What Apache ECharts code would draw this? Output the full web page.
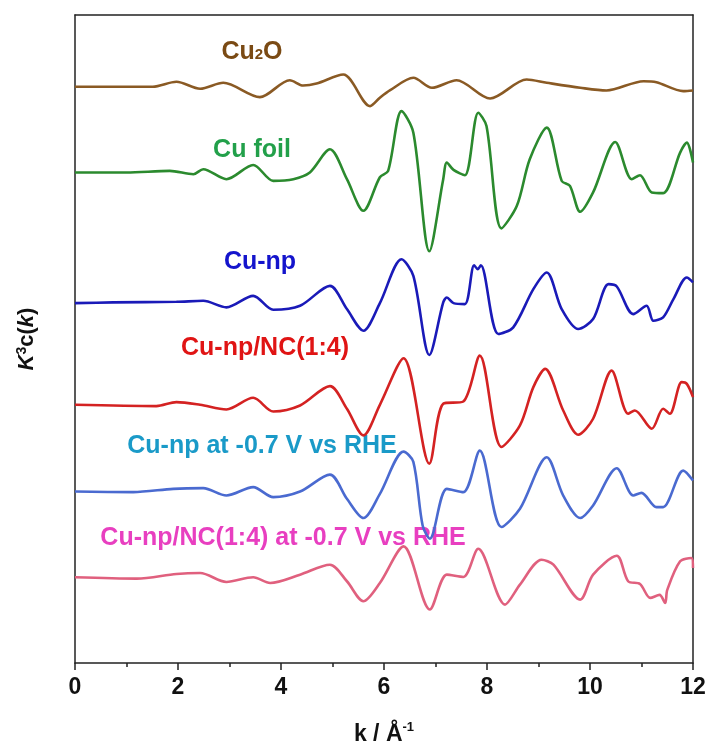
<!DOCTYPE html>
<html>
<head>
<meta charset="utf-8">
<style>
  html, body { margin: 0; padding: 0; background: #fff; }
  #chart { width: 713px; height: 751px; }
</style>
<script src="https://cdn.jsdelivr.net/npm/echarts@6/dist/echarts.min.js"></script>
</head>
<body>
<div id="chart"></div>
<script>
// k (1/Å) and chi (arbitrary units, relative to each trace's own baseline)
const cu2o = [
  [0, 0], [1.0, 0], [1.51, 0], [1.97, 0.5], [2.43, -0.2], [2.88, 0.4], [3.59, -1.04],
  [4.17, 0.66], [4.43, 0.13], [4.69, 0.33], [5.21, 1.23], [5.73, -1.94], [5.92, -1.1],
  [6.12, -0.34], [6.57, 0.9], [6.93, -0.1], [7.41, 0.66], [8.06, -1.17], [8.77, 0.73],
  [9.16, 0.4], [9.81, -0.1], [10.32, -0.37], [11.04, 0.56], [11.29, 0.46], [11.81, -0.44], [12, -0.37]
];
const cuFoil = [
  [0, 0], [1.0, 0], [1.84, 0.16], [2.3, -0.17], [2.49, 0.33], [2.94, -0.67], [3.46, 0.76],
  [3.85, -0.84], [4.24, -0.67], [4.56, 0], [4.95, 2.33], [5.28, -0.67], [5.6, -3.84],
  [5.92, -0.47], [6.08, 0.16], [6.34, 6.16], [6.57, 4.0], [6.88, -7.9], [7.15, -0.67],
  [7.22, 1.0], [7.35, 0.26], [7.57, -0.27], [7.83, 6.0], [7.99, 4.66], [8.28, -5.6],
  [8.58, -3.34], [8.83, 1.33], [9.16, 4.5], [9.45, -0.84], [9.61, -1.34], [9.81, -3.94],
  [10.06, -2.0], [10.49, 3.06], [10.81, -0.67], [10.97, -0.27], [11.2, -2.0], [11.42, -2.07],
  [11.75, 2.0], [11.88, 3.0], [12, 1.0]
];
const cuNp = [
  [0, 0], [0.74, 0.07], [1.97, 0.13], [2.49, 0.23], [2.94, -0.43], [3.46, 0.73], [3.85, -0.67],
  [4.37, -0.27], [4.95, 1.73], [5.28, -0.6], [5.6, -2.77], [5.92, 0], [6.34, 4.4], [6.57, 2.73],
  [6.88, -5.2], [7.15, 0.07], [7.22, 0.57], [7.35, 0], [7.57, -0.1], [7.75, 3.8], [7.82, 3.4],
  [7.88, 3.8], [8.22, -3.1], [8.51, -2.43], [8.9, 1.4], [9.16, 3.07], [9.45, -0.6], [9.77, -2.6],
  [10.06, -1.6], [10.36, 1.9], [10.52, 1.67], [10.84, -1.1], [11.1, -0.27], [11.23, -1.77],
  [11.42, -1.43], [11.62, 0.4], [11.88, 2.57], [12, 2.07]
];
const cuNpNc = [
  [0, 0], [1.58, -0.13], [1.97, 0.27], [2.43, 0], [2.94, -0.47], [3.46, 0.7], [3.85, -0.67],
  [4.37, -0.07], [4.95, 1.87], [5.28, -0.4], [5.6, -3.07], [5.92, 0], [6.38, 4.67], [6.88, -5.9],
  [7.15, 0.1], [7.54, 0.33], [7.86, 4.93], [8.28, -4.23], [8.64, -2.07], [8.9, 1.77], [9.13, 3.6],
  [9.48, -0.57], [9.77, -3.0], [10.06, -1.4], [10.42, 3.43], [10.74, -0.9], [10.87, -0.57],
  [11.2, -2.4], [11.42, -0.4], [11.55, -0.9], [11.78, 2.27], [11.88, 2.1], [12, 0.77]
];
const cuNpBias = [
  [0, 0], [1.13, -0.06], [1.91, 0.27], [2.49, 0.34], [2.94, -0.4], [3.46, 0.44], [3.85, -0.56],
  [4.37, 0], [4.95, 1.7], [5.28, -0.73], [5.6, -2.66], [5.92, -0.23], [6.38, 4.0], [6.57, 2.97],
  [6.75, -3.4], [6.89, -4.73], [7.22, 0.27], [7.54, -0.06], [7.86, 4.1], [8.28, -3.56],
  [8.64, -1.73], [9.16, 3.44], [9.48, -0.4], [9.81, -2.66], [10.06, -1.4], [10.52, 2.34],
  [10.84, -0.4], [11.0, -0.13], [11.29, -1.56], [11.42, -1.56], [11.81, 2.1], [12, 1.1]
];
const cuNpNcBias = [
  [0, 0], [1.2, -0.14], [1.97, 0.33], [2.43, 0.43], [2.94, -0.47], [3.46, 0], [3.79, -0.57],
  [4.37, 0.26], [4.95, 1.26], [5.28, -0.4], [5.6, -2.4], [5.92, -0.57], [6.38, 3.1], [6.89, -3.24],
  [7.22, 0.26], [7.54, 0.03], [7.83, 2.86], [8.35, -2.74], [8.64, -0.74], [9.06, 1.76], [9.29, 1.26],
  [9.81, -2.24], [10.06, 0.26], [10.52, 2.16], [10.74, -0.4], [10.97, -0.67], [11.17, -2.07],
  [11.35, -1.77], [11.46, -2.57], [11.5, -1.27], [11.75, 1.6], [11.97, 1.93], [12, 0.93]
];

const seriesNames = ['Cu2O', 'Cu foil', 'Cu-np', 'Cu-np/NC(1:4)', 'Cu-np at -0.7 V vs RHE', 'Cu-np/NC(1:4) at -0.7 V vs RHE'];
const seriesData = [cu2o, cuFoil, cuNp, cuNpNc, cuNpBias, cuNpNcBias];
const offsets = [57.8, 49.2, 36.1, 25.9, 17.2, 8.6];
const lineColors = ['#8a5a24', '#2b8a2e', '#1a1ab8', '#d42222', '#4a6ad0', '#e0607e'];
const xTicks = [0, 2, 4, 6, 8, 10, 12];

const labels = [
  { text: '{a|Cu}{s|2}{a|O}', x: 252, y: 52, color: '#7a4a14' },
  { text: '{a|Cu foil}', x: 252, y: 150, color: '#22a04a' },
  { text: '{a|Cu-np}', x: 260, y: 262, color: '#1414cc' },
  { text: '{a|Cu-np/NC(1:4)}', x: 265, y: 348, color: '#e01414' },
  { text: '{a|Cu-np at -0.7 V vs RHE}', x: 262, y: 446, color: '#1a9ac8' },
  { text: '{a|Cu-np/NC(1:4) at -0.7 V vs RHE}', x: 283, y: 538, color: '#e83fc0' }
];

const chart = echarts.init(document.getElementById('chart'), null, { renderer: 'canvas' });

const font = "'Liberation Sans', Arial, sans-serif";

const series = seriesData.map(function (pts, i) {
  return {
    name: seriesNames[i],
    type: 'line',
    data: pts.map(function (p) { return [p[0], +(p[1] + offsets[i]).toFixed(3)]; }),
    showSymbol: false,
    smooth: 0.3,
    lineStyle: { color: lineColors[i], width: 2.6 },
    animation: false,
    z: 3
  };
});

const graphics = labels.map(function (l) {
  return {
    type: 'text',
    x: l.x,
    y: l.y,
    style: {
      text: l.text,
      align: 'center',
      verticalAlign: 'middle',
      rich: {
        a: { fontFamily: font, fontWeight: 'bold', fontSize: 25, fill: l.color, color: l.color },
        s: { fontFamily: font, fontWeight: 'bold', fontSize: 15, fill: l.color, color: l.color, padding: [6, 0, 0, 0] }
      }
    }
  };
});

const frameLine = { show: true, onZero: false, lineStyle: { color: '#222', width: 1.5 } };

chart.setOption({
  animation: false,
  grid: { left: 75, right: 20, top: 15, bottom: 86 },
  xAxis: [
    {
      type: 'value',
      min: 0,
      max: 12,
      interval: 2,
      name: 'k / Å{sup|-1}',
      nameLocation: 'middle',
      nameGap: 58,
      nameTextStyle: {
        fontFamily: font, fontWeight: 'bold', fontSize: 23, color: '#111',
        rich: { sup: { fontFamily: font, fontWeight: 'bold', fontSize: 13, color: '#111', padding: [0, 0, 14, 0] } }
      },
      axisLine: frameLine,
      axisTick: { show: true, inside: false, length: 7, lineStyle: { color: '#222', width: 1.5 } },
      minorTick: { show: true, splitNumber: 2, length: 4, lineStyle: { color: '#222', width: 1.5 } },
      axisLabel: {
        margin: 13,
        fontFamily: font, fontWeight: 'bold', fontSize: 23, color: '#111',
        formatter: function (v) { return xTicks.indexOf(v) >= 0 ? String(v) : ''; }
      },
      splitLine: { show: false }
    },
    {
      type: 'value',
      position: 'top',
      min: 0,
      max: 12,
      axisLine: frameLine,
      axisTick: { show: false },
      axisLabel: { show: false },
      splitLine: { show: false }
    }
  ],
  yAxis: [
    {
      type: 'value',
      min: 0,
      max: 65,
      name: '{i|K}{sup|3}{n|c(}{i|k}{n|)}',
      nameLocation: 'middle',
      nameRotate: 90,
      nameGap: 36,
      nameTextStyle: {
        rich: {
          i: { fontFamily: font, fontWeight: 'bold', fontStyle: 'italic', fontSize: 22, color: '#111' },
          n: { fontFamily: font, fontWeight: 'bold', fontSize: 22, color: '#111' },
          sup: { fontFamily: font, fontWeight: 'bold', fontSize: 14, color: '#111', padding: [0, 0, 10, 0] }
        }
      },
      axisLine: frameLine,
      axisTick: { show: false },
      axisLabel: { show: false },
      splitLine: { show: false }
    },
    {
      type: 'value',
      position: 'right',
      min: 0,
      max: 65,
      axisLine: frameLine,
      axisTick: { show: false },
      axisLabel: { show: false },
      splitLine: { show: false }
    }
  ],
  graphic: graphics,
  series: series
});
</script>
</body>
</html>
